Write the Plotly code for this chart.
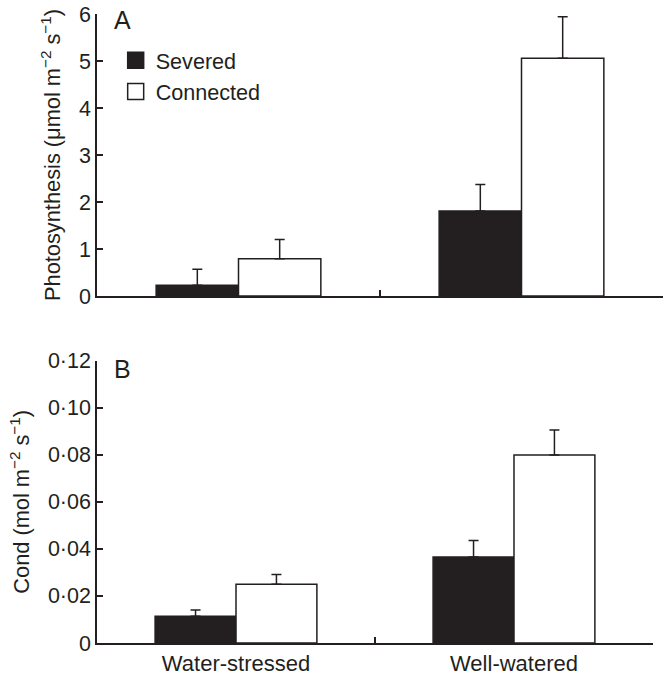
import plotly.graph_objects as go

categories = ["Water-stressed", "Well-watered"]
series_names = ["Severed", "Connected"]

photo_severed = [0.23, 1.81]
photo_severed_se = [0.34, 0.56]
photo_connected = [0.79, 5.06]
photo_connected_se = [0.41, 0.88]

cond_severed = [0.0114, 0.0366]
cond_severed_se = [0.0026, 0.0070]
cond_connected = [0.0250, 0.0799]
cond_connected_se = [0.0041, 0.0106]

photo_ticks = [0, 1, 2, 3, 4, 5, 6]
cond_ticks = [0, 0.02, 0.04, 0.06, 0.08, 0.10, 0.12]
cond_ticktext = ["0", "0·02", "0·04", "0·06", "0·08", "0·10", "0·12"]

INK = "#231f20"
FILLS = {"Severed": INK, "Connected": "#ffffff"}
FONT = "Liberation Sans, Arial, Helvetica, sans-serif"

fig = go.Figure()


def add_bars(vals, se, name, xa, ya):
    fig.add_trace(go.Bar(
        x=categories, y=vals, name=name, xaxis=xa, yaxis=ya,
        marker=dict(color=FILLS[name], line=dict(color=INK, width=1.5)),
        error_y=dict(type="data", array=se, arrayminus=[0] * len(se), symmetric=False,
                     color=INK, thickness=1.5, width=5),
        showlegend=False,
    ))


add_bars(photo_severed, photo_severed_se, "Severed", "x", "y")
add_bars(photo_connected, photo_connected_se, "Connected", "x", "y")
add_bars(cond_severed, cond_severed_se, "Severed", "x2", "y2")
add_bars(cond_connected, cond_connected_se, "Connected", "x2", "y2")

for name in series_names:
    fig.add_trace(go.Scatter(
        x=[None], y=[None], mode="markers", name=name, xaxis="x", yaxis="y",
        marker=dict(symbol="square", size=16, color=FILLS[name], line=dict(color=INK, width=1.5)),
        showlegend=True,
    ))

axis_common = dict(showline=True, linecolor=INK, linewidth=1.5, ticks="inside", ticklen=6,
                   tickwidth=1.5, tickcolor=INK, showgrid=False, zeroline=False,
                   automargin=False)

fig.update_layout(
    width=665, height=676,
    margin=dict(l=97, r=2, t=14, b=33, pad=0),
    paper_bgcolor="white", plot_bgcolor="white",
    font=dict(family=FONT, size=21, color=INK),
    barmode="group", bargap=0.418, bargroupgap=0,
    showlegend=True,
    legend=dict(x=0.033, y=0.959, xanchor="left", yanchor="top", bgcolor="rgba(0,0,0,0)",
                font=dict(family=FONT, size=21.6, color=INK), itemsizing="trace",
                tracegroupgap=0),
    xaxis=dict(domain=[0, 1], anchor="y", type="category", categoryorder="array",
               categoryarray=categories, tickson="boundaries", showticklabels=False,
               range=[-0.5, 1.5], tickfont=dict(family=FONT, size=22, color=INK), **axis_common),
    yaxis=dict(domain=[0.5517, 1], anchor="x", range=[0, 6], tickvals=photo_ticks,
               tickfont=dict(family=FONT, size=21.5, color=INK),
               title=dict(text="Photosynthesis (μmol m<sup>−2</sup> s<sup>−1</sup>)",
                          font=dict(family=FONT, size=21.8, color=INK), standoff=12),
               **axis_common),
    xaxis2=dict(domain=[0, 0.9823], anchor="y2", type="category", categoryorder="array",
                categoryarray=categories, tickson="boundaries", showticklabels=True,
                range=[-0.5, 1.5], tickfont=dict(family=FONT, size=22, color=INK), **axis_common),
    yaxis2=dict(domain=[0, 0.4488], anchor="x2", range=[0, 0.12], tickvals=cond_ticks,
                ticktext=cond_ticktext, tickfont=dict(family=FONT, size=21.5, color=INK),
                title=dict(text="Cond (mol m<sup>−2</sup> s<sup>−1</sup>)",
                           font=dict(family=FONT, size=21.8, color=INK), standoff=12),
                **axis_common),
    annotations=[
        dict(text="A", x=0.0459, y=0.9905, xref="paper", yref="paper", showarrow=False,
             xanchor="center", yanchor="middle", font=dict(family=FONT, size=25, color=INK)),
        dict(text="B", x=0.0459, y=0.436, xref="paper", yref="paper", showarrow=False,
             xanchor="center", yanchor="middle", font=dict(family=FONT, size=25, color=INK)),
    ],
)

fig.write_html(
    "out.html",
    config={"displayModeBar": False},
    post_script="document.body.style.margin='0px';document.body.style.padding='0px';"
                "document.documentElement.style.overflow='hidden';",
)
